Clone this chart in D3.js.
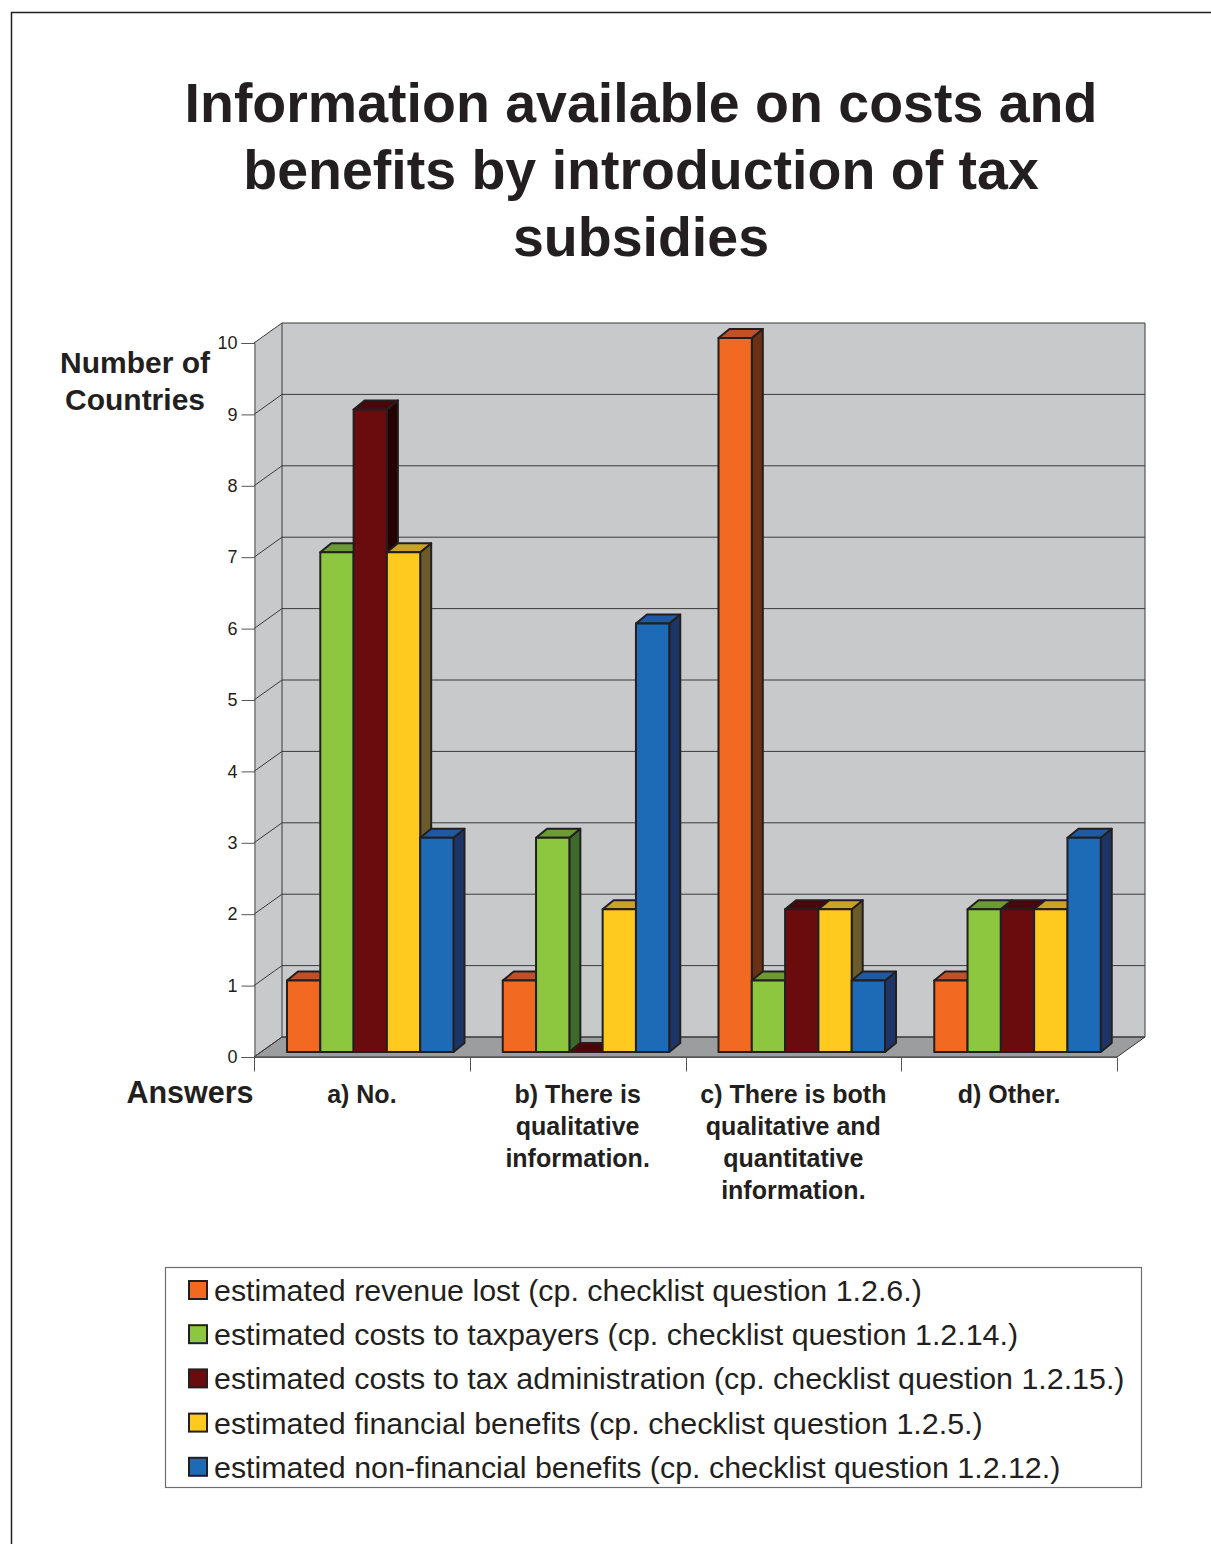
<!DOCTYPE html>
<html><head><meta charset="utf-8">
<script src="https://cdn.jsdelivr.net/npm/d3@7"></script>
<style>body{margin:0;background:#fff}svg{display:block}text{font-family:"Liberation Sans",Arial,sans-serif;fill:#231F20}</style>
</head><body>
<script>
const categories = ["a) No.", "b) There is qualitative information.", "c) There is both qualitative and quantitative information.", "d) Other."];
const categoryLines = [["a) No."], ["b) There is", "qualitative", "information."], ["c) There is both", "qualitative and", "quantitative", "information."], ["d) Other."]];
const seriesNames = [
  "estimated revenue lost (cp. checklist question 1.2.6.)",
  "estimated costs to taxpayers (cp. checklist question 1.2.14.)",
  "estimated costs to tax administration (cp. checklist question 1.2.15.)",
  "estimated financial benefits (cp. checklist question 1.2.5.)",
  "estimated non-financial benefits (cp. checklist question 1.2.12.)"
];
const revenueLost = [1, 1, 10, 1];
const costsTaxpayers = [7, 3, 1, 2];
const costsAdministration = [9, 0, 2, 2];
const financialBenefits = [7, 2, 2, 2];
const nonFinancialBenefits = [3, 6, 1, 3];
const seriesValues = [revenueLost, costsTaxpayers, costsAdministration, financialBenefits, nonFinancialBenefits];
const yTicks = [0,1,2,3,4,5,6,7,8,9,10];
const colors = ["#F26A22", "#8DC63F", "#6A0C0E", "#FFCA1F", "#1D6AB7"];
const topColors = ["#C0502A", "#6C9A35", "#4A0608", "#C9A227", "#1F5AA0"];
const sideColors = ["#6B3115", "#3C6A2D", "#250000", "#6B5B2A", "#1D3566"];

const W = 1211, H = 1544;
const svg = d3.select("body").append("svg").attr("width", W).attr("height", H);

// outer frame
svg.append("path").attr("d", `M11.5,${H} L11.5,12.5 L${W},12.5`).attr("fill","none").attr("stroke","#231F20").attr("stroke-width",1.5);

// title
const title = svg.append("text").attr("text-anchor","middle").attr("font-weight","bold").attr("font-size",55.5);
["Information available on costs and","benefits by introduction of tax","subsidies"].forEach((t,i)=>{
  title.append("tspan").attr("x",641).attr("y",122+i*67).text(t);
});

const y = d3.scaleLinear().domain([0,10]).range([1057,343]);
const x0 = d3.scaleBand().domain(categories).range([254,1117]);
const x1 = d3.scaleBand().domain(seriesNames).range([0,166.5]);
const WDX = 28, WDY = -20;   // wall depth
const BOX = 7, BOY = -5;     // bar front offset
const BDX = 11, BDY = -9;    // bar depth

const xL = x0.range()[0], xR = x0.range()[1];
// back wall
svg.append("rect").attr("x", xL+WDX).attr("y", y(10)+WDY).attr("width", xR-xL).attr("height", y(0)-y(10)).attr("fill","#C8C9CB");
// left wall
svg.append("polygon").attr("points", [[xL,y(10)],[xL+WDX,y(10)+WDY],[xL+WDX,y(0)+WDY],[xL,y(0)]].join(" ")).attr("fill","#C8C9CB");
// floor
svg.append("polygon").attr("points", [[xL,y(0)],[xL+WDX,y(0)+WDY],[xR+WDX,y(0)+WDY],[xR,y(0)]].join(" ")).attr("fill","#9C9D9F").attr("stroke","#333").attr("stroke-width",1);
// gridlines
yTicks.forEach(v=>{
  svg.append("line").attr("x1",xL+WDX).attr("x2",xR+WDX).attr("y1",y(v)+WDY).attr("y2",y(v)+WDY).attr("stroke","#3a3a3a").attr("stroke-width",1);
  svg.append("line").attr("x1",xL).attr("x2",xL+WDX).attr("y1",y(v)).attr("y2",y(v)+WDY).attr("stroke","#3a3a3a").attr("stroke-width",1);
});
svg.append("line").attr("x1",xL+WDX).attr("x2",xL+WDX).attr("y1",y(10)+WDY).attr("y2",y(0)+WDY).attr("stroke","#3a3a3a");
svg.append("line").attr("x1",xR+WDX).attr("x2",xR+WDX).attr("y1",y(10)+WDY).attr("y2",y(0)+WDY).attr("stroke","#3a3a3a");

// y axis
const yAxis = d3.axisLeft(y).tickValues(yTicks).tickSize(13).tickPadding(4).tickFormat(d3.format("d"));
const ya = svg.append("g").attr("transform",`translate(${xL+0.5},0)`).call(yAxis);
ya.select(".domain").attr("stroke","#555");
ya.selectAll(".tick line").attr("stroke","#555");
ya.selectAll("text").attr("font-size",18).attr("font-family","Liberation Sans, Arial, sans-serif").attr("fill","#231F20");

// x axis
const xa = svg.append("g").attr("transform",`translate(0,${y(0)+0.5})`);
xa.append("line").attr("x1",xL).attr("x2",xR).attr("stroke","#555");
[...categories.map(c=>x0(c)), xR].forEach(xx=>{
  xa.append("line").attr("x1",Math.round(xx)+0.5).attr("x2",Math.round(xx)+0.5).attr("y1",0).attr("y2",14).attr("stroke","#555");
});

// bars
const bars = svg.append("g");
categories.forEach((c,ci)=>{
  seriesNames.forEach((s,si)=>{
    const v = seriesValues[si][ci];
    const bx = x0(c) + BOX + 26 + x1(s);
    const bw = x1.bandwidth();
    const top = y(v) + BOY, bot = y(0) + BOY;
    const g = bars.append("g").attr("stroke","#231F20").attr("stroke-width",2).attr("stroke-linejoin","round");
    if (v > 0) {
      g.append("polygon").attr("points",[[bx+bw,top],[bx+bw+BDX,top+BDY],[bx+bw+BDX,bot+BDY],[bx+bw,bot]].join(" ")).attr("fill",sideColors[si]);
    }
    g.append("polygon").attr("points",[[bx,top],[bx+BDX,top+BDY],[bx+bw+BDX,top+BDY],[bx+bw,top]].join(" ")).attr("fill",topColors[si]);
    if (v > 0) {
      g.append("rect").attr("x",bx).attr("y",top).attr("width",bw).attr("height",bot-top).attr("fill",colors[si]);
    }
  });
});

// axis titles
const yt = svg.append("text").attr("text-anchor","middle").attr("font-weight","bold").attr("font-size",30);
yt.append("tspan").attr("x",135).attr("y",373).text("Number of");
yt.append("tspan").attr("x",135).attr("y",410).text("Countries");
svg.append("text").attr("x",190).attr("y",1103).attr("text-anchor","middle").attr("font-weight","bold").attr("font-size",30.5).text("Answers");

// category labels
categories.forEach((c,ci)=>{
  const t = svg.append("text").attr("text-anchor","middle").attr("font-weight","bold").attr("font-size",25);
  categoryLines[ci].forEach((ln,li)=>{
    t.append("tspan").attr("x",x0(c)+x0.bandwidth()/2).attr("y",1103+li*32).text(ln);
  });
});

// legend
const lg = svg.append("g");
lg.append("rect").attr("x",165.5).attr("y",1267.5).attr("width",976).attr("height",220).attr("fill","#fff").attr("stroke","#6d6d6d").attr("stroke-width",1.2);
seriesNames.forEach((s,si)=>{
  const cy = 1290 + si*44.2;
  lg.append("rect").attr("x",189).attr("y",cy-9).attr("width",18).attr("height",18).attr("fill",colors[si]).attr("stroke","#231F20").attr("stroke-width",2);
  lg.append("text").attr("x",214).attr("y",cy+11).attr("font-size",30.4).text(s);
});
</script>
</body></html>
